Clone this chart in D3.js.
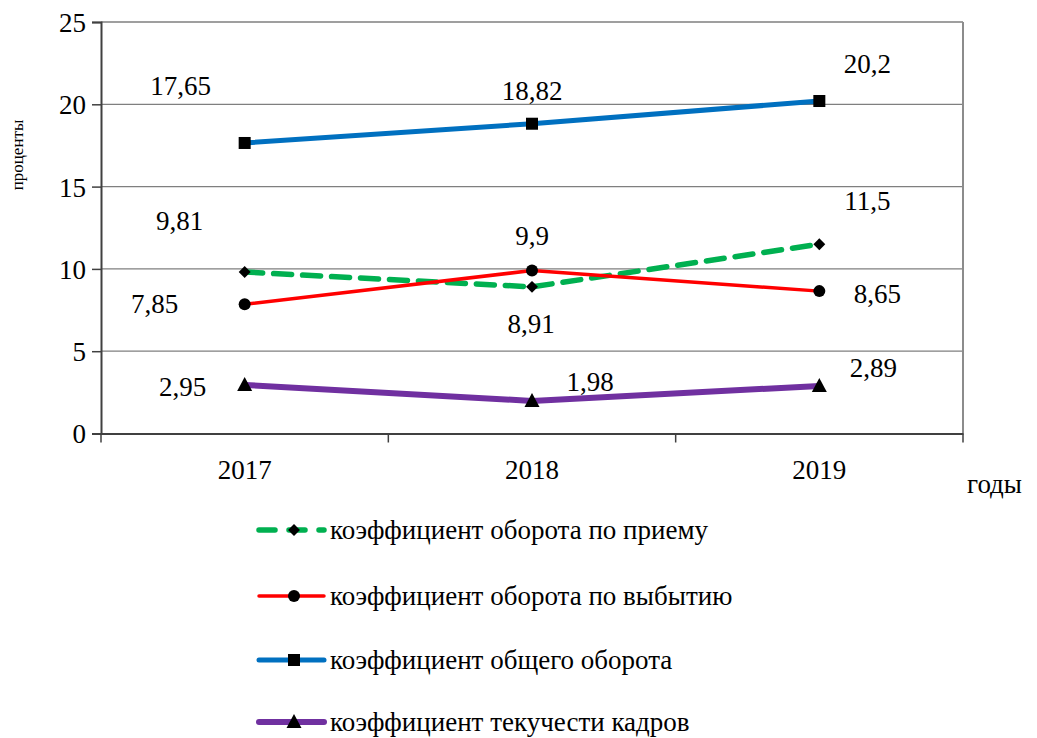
<!DOCTYPE html>
<html>
<head>
<meta charset="utf-8">
<script src="https://cdn.jsdelivr.net/npm/d3@7"></script>
<style>
body { margin:0; background:#fff; }
svg text { font-family: "Liberation Serif", "Times New Roman", Times, Tinos, "Noto Serif", "DejaVu Serif", FreeSerif, "Nimbus Roman", serif; fill:#000; }
</style>
</head>
<body>
<div id="chart"></div>
<script>
var years = ["2017", "2018", "2019"];
var seriesNames = [
	"коэффициент оборота по приему",
	"коэффициент оборота по выбытию",
	"коэффициент общего оборота",
	"коэффициент текучести кадров"
];
var priem = [9.81, 8.91, 11.5];
var vybytie = [7.85, 9.9, 8.65];
var obshiy = [17.65, 18.82, 20.2];
var tekuchest = [2.95, 1.98, 2.89];
var labelText = [
	["9,81", "8,91", "11,5"],
	["7,85", "9,9", "8,65"],
	["17,65", "18,82", "20,2"],
	["2,95", "1,98", "2,89"]
];
var yTicks = [0, 5, 10, 15, 20, 25];

var width = 1037, height = 738;
var plotLeft = 101, plotRight = 963, plotTop = 22, plotBottom = 433.5;

// styles of each series (colour, width, dash, marker)
var styles = [
	{color:"#00B050", w:5.5, dash:"18,11", marker:"diamond"},
	{color:"#FF0000", w:3.5, dash:null, marker:"circle"},
	{color:"#0070C0", w:5, dash:null, marker:"square"},
	{color:"#7030A0", w:6, dash:null, marker:"triangle"}
];
// manual label offsets (dx, dy of baseline) like in the original
var labelOffsets = [
	[[-65,-42],[-1,46],[48,-34]],
	[[-90,9],[0,-26],[58,12]],
	[[-64,-48],[0,-24],[48,-28]],
	[[-62,11],[58,-10],[54,-9]]
];

var series = [priem, vybytie, obshiy, tekuchest];

var svg = d3.select("#chart").append("svg")
	.attr("width", width)
	.attr("height", height);

var x = d3.scaleBand().domain(years).range([plotLeft, plotRight]);
var y = d3.scaleLinear().domain([0, 25]).range([plotBottom, plotTop]);

// grid
svg.append("g").selectAll("line")
	.data(yTicks.slice(1))
	.enter().append("line")
	.attr("x1", plotLeft).attr("x2", plotRight)
	.attr("y1", function(d){ return y(d); })
	.attr("y2", function(d){ return y(d); })
	.style("stroke", "#7f7f7f")
	.style("stroke-width", 1.3);

svg.append("line")
	.attr("x1", plotRight).attr("x2", plotRight)
	.attr("y1", plotTop).attr("y2", plotBottom)
	.style("stroke", "#8c8c8c").style("stroke-width", 2);

// y axis
var yAxis = svg.append("g")
	.attr("transform", "translate(" + plotLeft + ",0)")
	.call(d3.axisLeft(y).tickValues(yTicks).tickSize(9).tickPadding(6).tickFormat(d3.format("d")));
yAxis.attr("font-family", null);
yAxis.select(".domain").style("stroke", "#404040").style("stroke-width", 2);
yAxis.selectAll(".tick line").style("stroke", "#404040").style("stroke-width", 1.5);
yAxis.selectAll("text").style("font-size", "27px").attr("dy", "0.35em");

// x axis
var xAxis = svg.append("g")
	.attr("transform", "translate(0," + plotBottom + ")")
	.call(d3.axisBottom(x).tickSize(0).tickPadding(26));
xAxis.attr("font-family", null);
xAxis.select(".domain").style("stroke", "#404040").style("stroke-width", 2);
xAxis.selectAll("text").style("font-size", "27px");
svg.append("g").selectAll("line")
	.data([plotLeft].concat(years.map(function(d){ return x(d) + x.bandwidth(); })))
	.enter().append("line")
	.attr("x1", function(d){ return d; }).attr("x2", function(d){ return d; })
	.attr("y1", plotBottom).attr("y2", plotBottom + 9)
	.style("stroke", "#404040").style("stroke-width", 1.5);

// axis titles
svg.append("text")
	.attr("transform", "translate(23,155) rotate(-90)")
	.attr("text-anchor", "middle")
	.style("font-size", "17px")
	.text("проценты");
svg.append("text")
	.attr("x", 967).attr("y", 493)
	.style("font-size", "27px")
	.text("годы");

var cx = function(i){ return x(years[i]) + x.bandwidth() / 2; };

function drawMarker(g, type, px, py) {
	if (type == "diamond") {
		g.append("path").attr("d", d3.symbol(d3.symbolDiamond2, 90)()).attr("transform", "translate(" + px + "," + py + ")").style("fill", "#000");
	} else if (type == "circle") {
		g.append("circle").attr("cx", px).attr("cy", py).attr("r", 6).style("fill", "#000");
	} else if (type == "square") {
		g.append("rect").attr("x", px - 6).attr("y", py - 6).attr("width", 12).attr("height", 12).style("fill", "#000");
	} else {
		g.append("path").attr("d", "M" + px + "," + (py - 8) + "L" + (px + 7.5) + "," + (py + 6) + "L" + (px - 7.5) + "," + (py + 6) + "Z").style("fill", "#000");
	}
}

var line = d3.line()
	.x(function(d, i){ return cx(i); })
	.y(function(d){ return y(d); });

for (var s = 0; s < series.length; s++) {
	var st = styles[s];
	var g = svg.append("g");
	g.append("path")
		.attr("d", line(series[s]))
		.style("fill", "none")
		.style("stroke", st.color)
		.style("stroke-width", st.w)
		.style("stroke-dasharray", st.dash)
		.style("stroke-linecap", st.dash ? "round" : "butt");
	for (var i = 0; i < series[s].length; i++) {
		drawMarker(g, st.marker, cx(i), y(series[s][i]));
		g.append("text")
			.attr("x", cx(i) + labelOffsets[s][i][0])
			.attr("y", y(series[s][i]) + labelOffsets[s][i][1])
			.attr("text-anchor", "middle")
			.style("font-size", "27px")
			.text(labelText[s][i]);
	}
}

// legend
var legendY = [530, 596, 660, 722];
for (var s = 0; s < series.length; s++) {
	var st = styles[s];
	var lg = svg.append("g");
	lg.append("line")
		.attr("x1", 259).attr("x2", 324)
		.attr("y1", legendY[s]).attr("y2", legendY[s])
		.style("stroke", st.color)
		.style("stroke-width", st.w)
		.style("stroke-dasharray", st.dash ? "16,14" : null)
		.style("stroke-linecap", "round");
	drawMarker(lg, st.marker, 294, legendY[s]);
	lg.append("text")
		.attr("x", 330).attr("y", legendY[s] + 9)
		.style("font-size", "27px")
		.text(seriesNames[s]);
}
</script>
</body>
</html>
